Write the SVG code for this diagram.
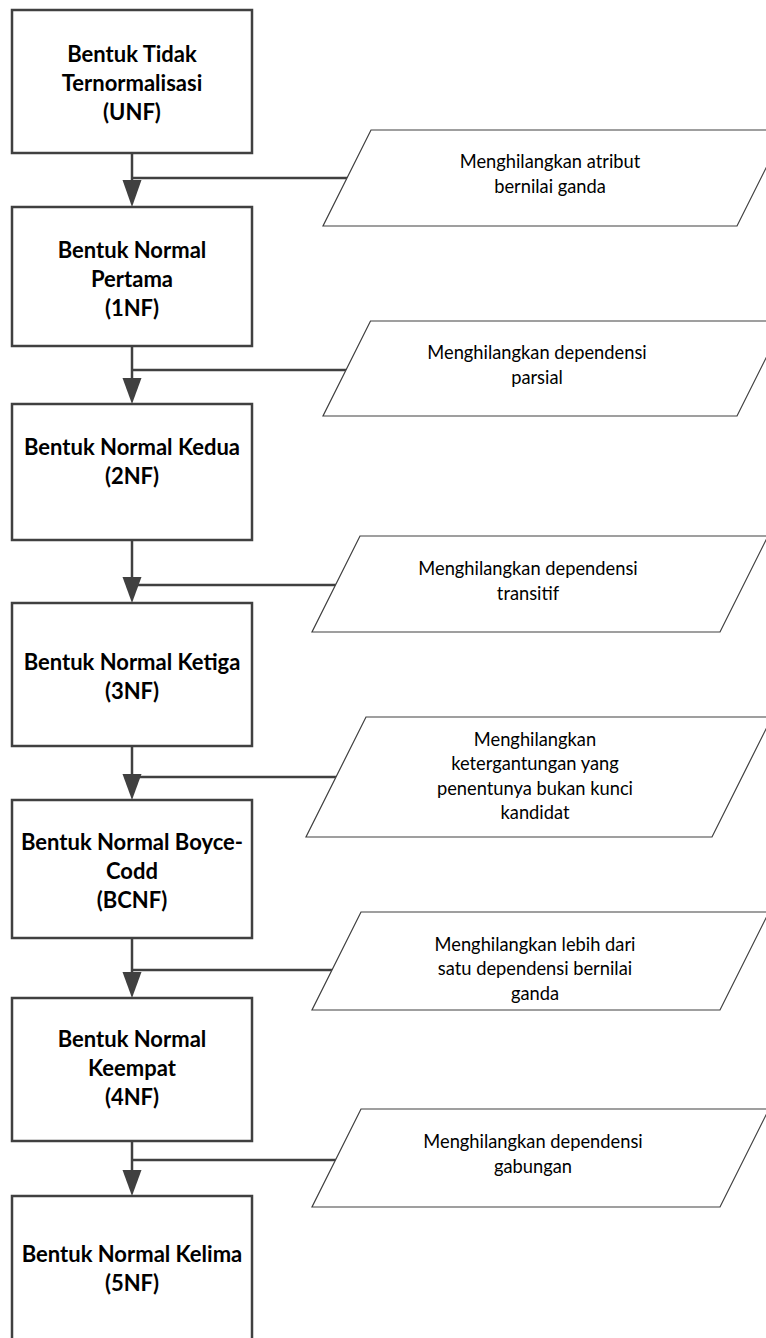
<svg xmlns="http://www.w3.org/2000/svg" width="766" height="1338" viewBox="0 0 766 1338">
<defs>
<style>
.box{fill:#fff;stroke:#404040;stroke-width:2.5}
.para{fill:#fff;stroke:#404040;stroke-width:1.2}
.bt{font-family:Lato,"Liberation Sans",sans-serif;font-weight:bold;font-size:22px;fill:#000;text-anchor:middle}
.pt{font-family:Lato,"Liberation Sans",sans-serif;font-size:18.3px;fill:#000;text-anchor:middle}
.ln{fill:none;stroke:#404040;stroke-width:2.5}
</style>
</defs>
<rect width="766" height="1338" fill="#fff"/>

<g id="connectors">
<line class="ln" x1="132" y1="153" x2="132" y2="181" />
<path d="M122.5,180 L141.5,180 L132,207 Z" fill="#404040"/>
<line class="ln" x1="132" y1="178" x2="348" y2="178"/>

<line class="ln" x1="132" y1="346" x2="132" y2="379"/>
<path d="M122.5,378 L141.5,378 L132,404 Z" fill="#404040"/>
<line class="ln" x1="132" y1="370" x2="347" y2="370"/>

<line class="ln" x1="132" y1="540" x2="132" y2="578"/>
<path d="M122.5,577 L141.5,577 L132,603 Z" fill="#404040"/>
<line class="ln" x1="132" y1="585" x2="337" y2="585"/>

<line class="ln" x1="132" y1="746" x2="132" y2="775"/>
<path d="M122.5,774 L141.5,774 L132,800 Z" fill="#404040"/>
<line class="ln" x1="132" y1="777" x2="337" y2="777"/>

<line class="ln" x1="132" y1="938" x2="132" y2="973"/>
<path d="M122.5,972 L141.5,972 L132,998 Z" fill="#404040"/>
<line class="ln" x1="132" y1="970" x2="334" y2="970"/>

<line class="ln" x1="132" y1="1141" x2="132" y2="1171"/>
<path d="M122.5,1170 L141.5,1170 L132,1196 Z" fill="#404040"/>
<line class="ln" x1="132" y1="1160" x2="336" y2="1160"/>
</g>

<g id="n-unf">
<rect class="box" x="12" y="10" width="240" height="143"/>
<text class="bt" x="132" y="62">Bentuk Tidak</text>
<text class="bt" x="132" y="91">Ternormalisasi</text>
<text class="bt" x="132" y="120">(UNF)</text>
</g>

<g id="n-1nf">
<rect class="box" x="12" y="207" width="240" height="139"/>
<text class="bt" x="132" y="258">Bentuk Normal</text>
<text class="bt" x="132" y="287">Pertama</text>
<text class="bt" x="132" y="316">(1NF)</text>
</g>

<g id="n-2nf">
<rect class="box" x="12" y="404" width="240" height="136"/>
<text class="bt" x="132" y="455">Bentuk Normal Kedua</text>
<text class="bt" x="132" y="484">(2NF)</text>
</g>

<g id="n-3nf">
<rect class="box" x="12" y="603" width="240" height="143"/>
<text class="bt" x="132" y="670">Bentuk Normal Ketiga</text>
<text class="bt" x="132" y="699">(3NF)</text>
</g>

<g id="n-bcnf">
<rect class="box" x="12" y="800" width="240" height="138"/>
<text class="bt" x="132" y="850">Bentuk Normal Boyce-</text>
<text class="bt" x="132" y="879">Codd</text>
<text class="bt" x="132" y="908">(BCNF)</text>
</g>

<g id="n-4nf">
<rect class="box" x="12" y="998" width="240" height="143"/>
<text class="bt" x="132" y="1047">Bentuk Normal</text>
<text class="bt" x="132" y="1076">Keempat</text>
<text class="bt" x="132" y="1105">(4NF)</text>
</g>

<g id="n-5nf">
<rect class="box" x="12" y="1196" width="240" height="150"/>
<text class="bt" x="132" y="1262">Bentuk Normal Kelima</text>
<text class="bt" x="132" y="1291">(5NF)</text>
</g>

<g id="p1">
<polygon class="para" points="371,130 785,130 737,226 323,226"/>
<text class="pt" x="550" y="168">Menghilangkan atribut</text>
<text class="pt" x="550" y="193">bernilai ganda</text>
</g>

<g id="p2">
<polygon class="para" points="370.5,321 784.5,321 737,416 323,416"/>
<text class="pt" x="537" y="359">Menghilangkan dependensi</text>
<text class="pt" x="537" y="384">parsial</text>
</g>

<g id="p3">
<polygon class="para" points="360,536 768,536 720,632 312,632"/>
<text class="pt" x="528" y="575">Menghilangkan dependensi</text>
<text class="pt" x="528" y="600">transitif</text>
</g>

<g id="p4">
<polygon class="para" points="366,717 772,717 712,837 306,837"/>
<text class="pt" x="535" y="746">Menghilangkan</text>
<text class="pt" x="535" y="770">ketergantungan yang</text>
<text class="pt" x="535" y="795">penentunya bukan kunci</text>
<text class="pt" x="535" y="819">kandidat</text>
</g>

<g id="p5">
<polygon class="para" points="361,912 769,912 720,1010 312,1010"/>
<text class="pt" x="535" y="951">Menghilangkan lebih dari</text>
<text class="pt" x="535" y="975">satu dependensi bernilai</text>
<text class="pt" x="535" y="1000">ganda</text>
</g>

<g id="p6">
<polygon class="para" points="361,1109 769,1109 720,1207 312,1207"/>
<text class="pt" x="533" y="1148">Menghilangkan dependensi</text>
<text class="pt" x="533" y="1173">gabungan</text>
</g>
</svg>
